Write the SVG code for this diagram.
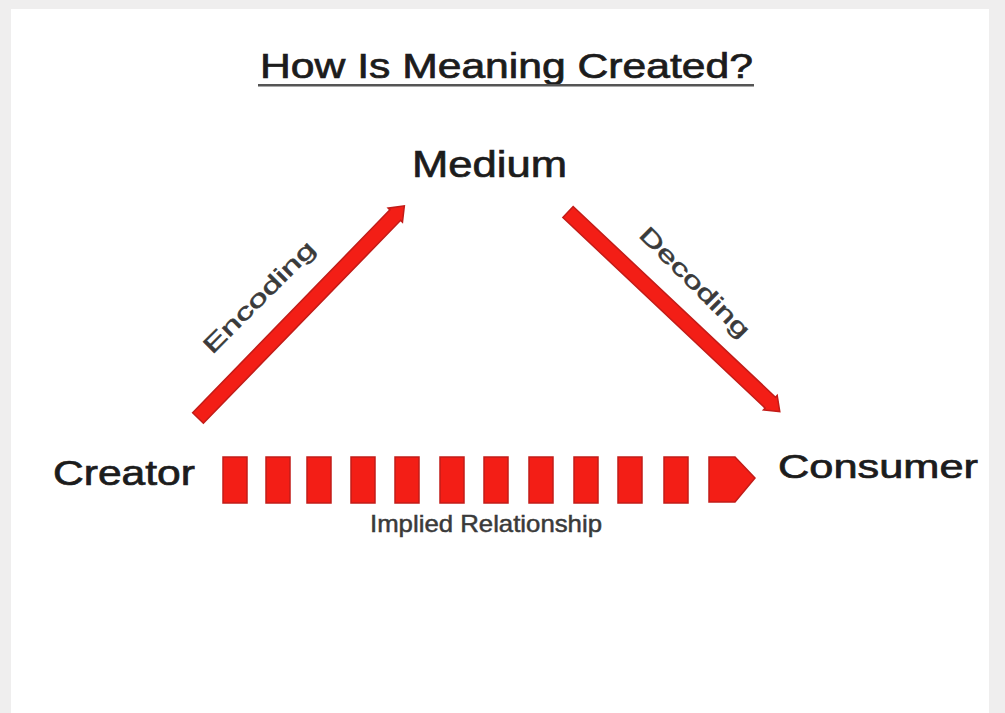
<svg xmlns="http://www.w3.org/2000/svg" width="1005" height="713" viewBox="0 0 1005 713">
  <style>
    .lbl { font-family: "Liberation Sans", Arial, sans-serif; fill: #1c1c1c; stroke: #1c1c1c; stroke-width: 0.7; }
    .small { font-family: "Liberation Sans", Arial, sans-serif; fill: #3a3a3a; stroke: #3a3a3a; stroke-width: 0.5; }
    .red { fill: #f31e16; stroke: #c21c18; stroke-width: 1.5; stroke-linejoin: miter; }
  </style>
  <defs>
    <rect id="dash" class="red" x="0" y="457" width="24" height="46"/>
  </defs>
  <rect x="0" y="0" width="1005" height="713" fill="#efeeee"/>
  <rect x="11" y="9" width="978" height="704" fill="#ffffff"/>

  <g id="title">
    <text class="lbl" x="260" y="78" font-size="35" textLength="493" lengthAdjust="spacingAndGlyphs">How Is Meaning Created?</text>
    <rect x="258" y="84" width="496" height="2.5" fill="#555"/>
  </g>

  <g id="medium">
    <text class="lbl" x="412" y="177" font-size="37" textLength="155" lengthAdjust="spacingAndGlyphs">Medium</text>
  </g>

  <g id="creator">
    <text class="lbl" x="53" y="485" font-size="35" textLength="142" lengthAdjust="spacingAndGlyphs">Creator</text>
  </g>

  <g id="consumer">
    <text class="lbl" x="778" y="478" font-size="34" textLength="200" lengthAdjust="spacingAndGlyphs">Consumer</text>
  </g>

  <g id="connectors">
    <g id="encoding">
      <g transform="translate(198,418) rotate(-45.8)">
        <polygon class="red" points="0,-7.5 283,-7.5 283,-10 296,0 283,10 283,7.5 0,7.5"/>
      </g>
      <g transform="translate(259,297) rotate(-45)">
        <text class="small" x="0" y="8" font-size="23" text-anchor="middle" textLength="148" lengthAdjust="spacingAndGlyphs">Encoding</text>
      </g>
    </g>
    <g id="decoding">
      <g transform="translate(568,212) rotate(43.3)">
        <polygon class="red" points="0,-7.5 278,-7.5 278,-10 291,0 278,10 278,7.5 0,7.5"/>
      </g>
      <g transform="translate(695,282) rotate(45)">
        <text class="small" x="0" y="8" font-size="23" text-anchor="middle" textLength="146" lengthAdjust="spacingAndGlyphs">Decoding</text>
      </g>
    </g>
    <g id="implied">
      <use href="#dash" x="223"/>
      <use href="#dash" x="266"/>
      <use href="#dash" x="307"/>
      <use href="#dash" x="351"/>
      <use href="#dash" x="395"/>
      <use href="#dash" x="440"/>
      <use href="#dash" x="484"/>
      <use href="#dash" x="529"/>
      <use href="#dash" x="574"/>
      <use href="#dash" x="618"/>
      <use href="#dash" x="664"/>
      <polygon class="red" points="709,457 735,457 755,478 735,502 709,502"/>
      <text class="small" x="370" y="532" font-size="24" textLength="232" lengthAdjust="spacingAndGlyphs">Implied Relationship</text>
    </g>
  </g>
</svg>
